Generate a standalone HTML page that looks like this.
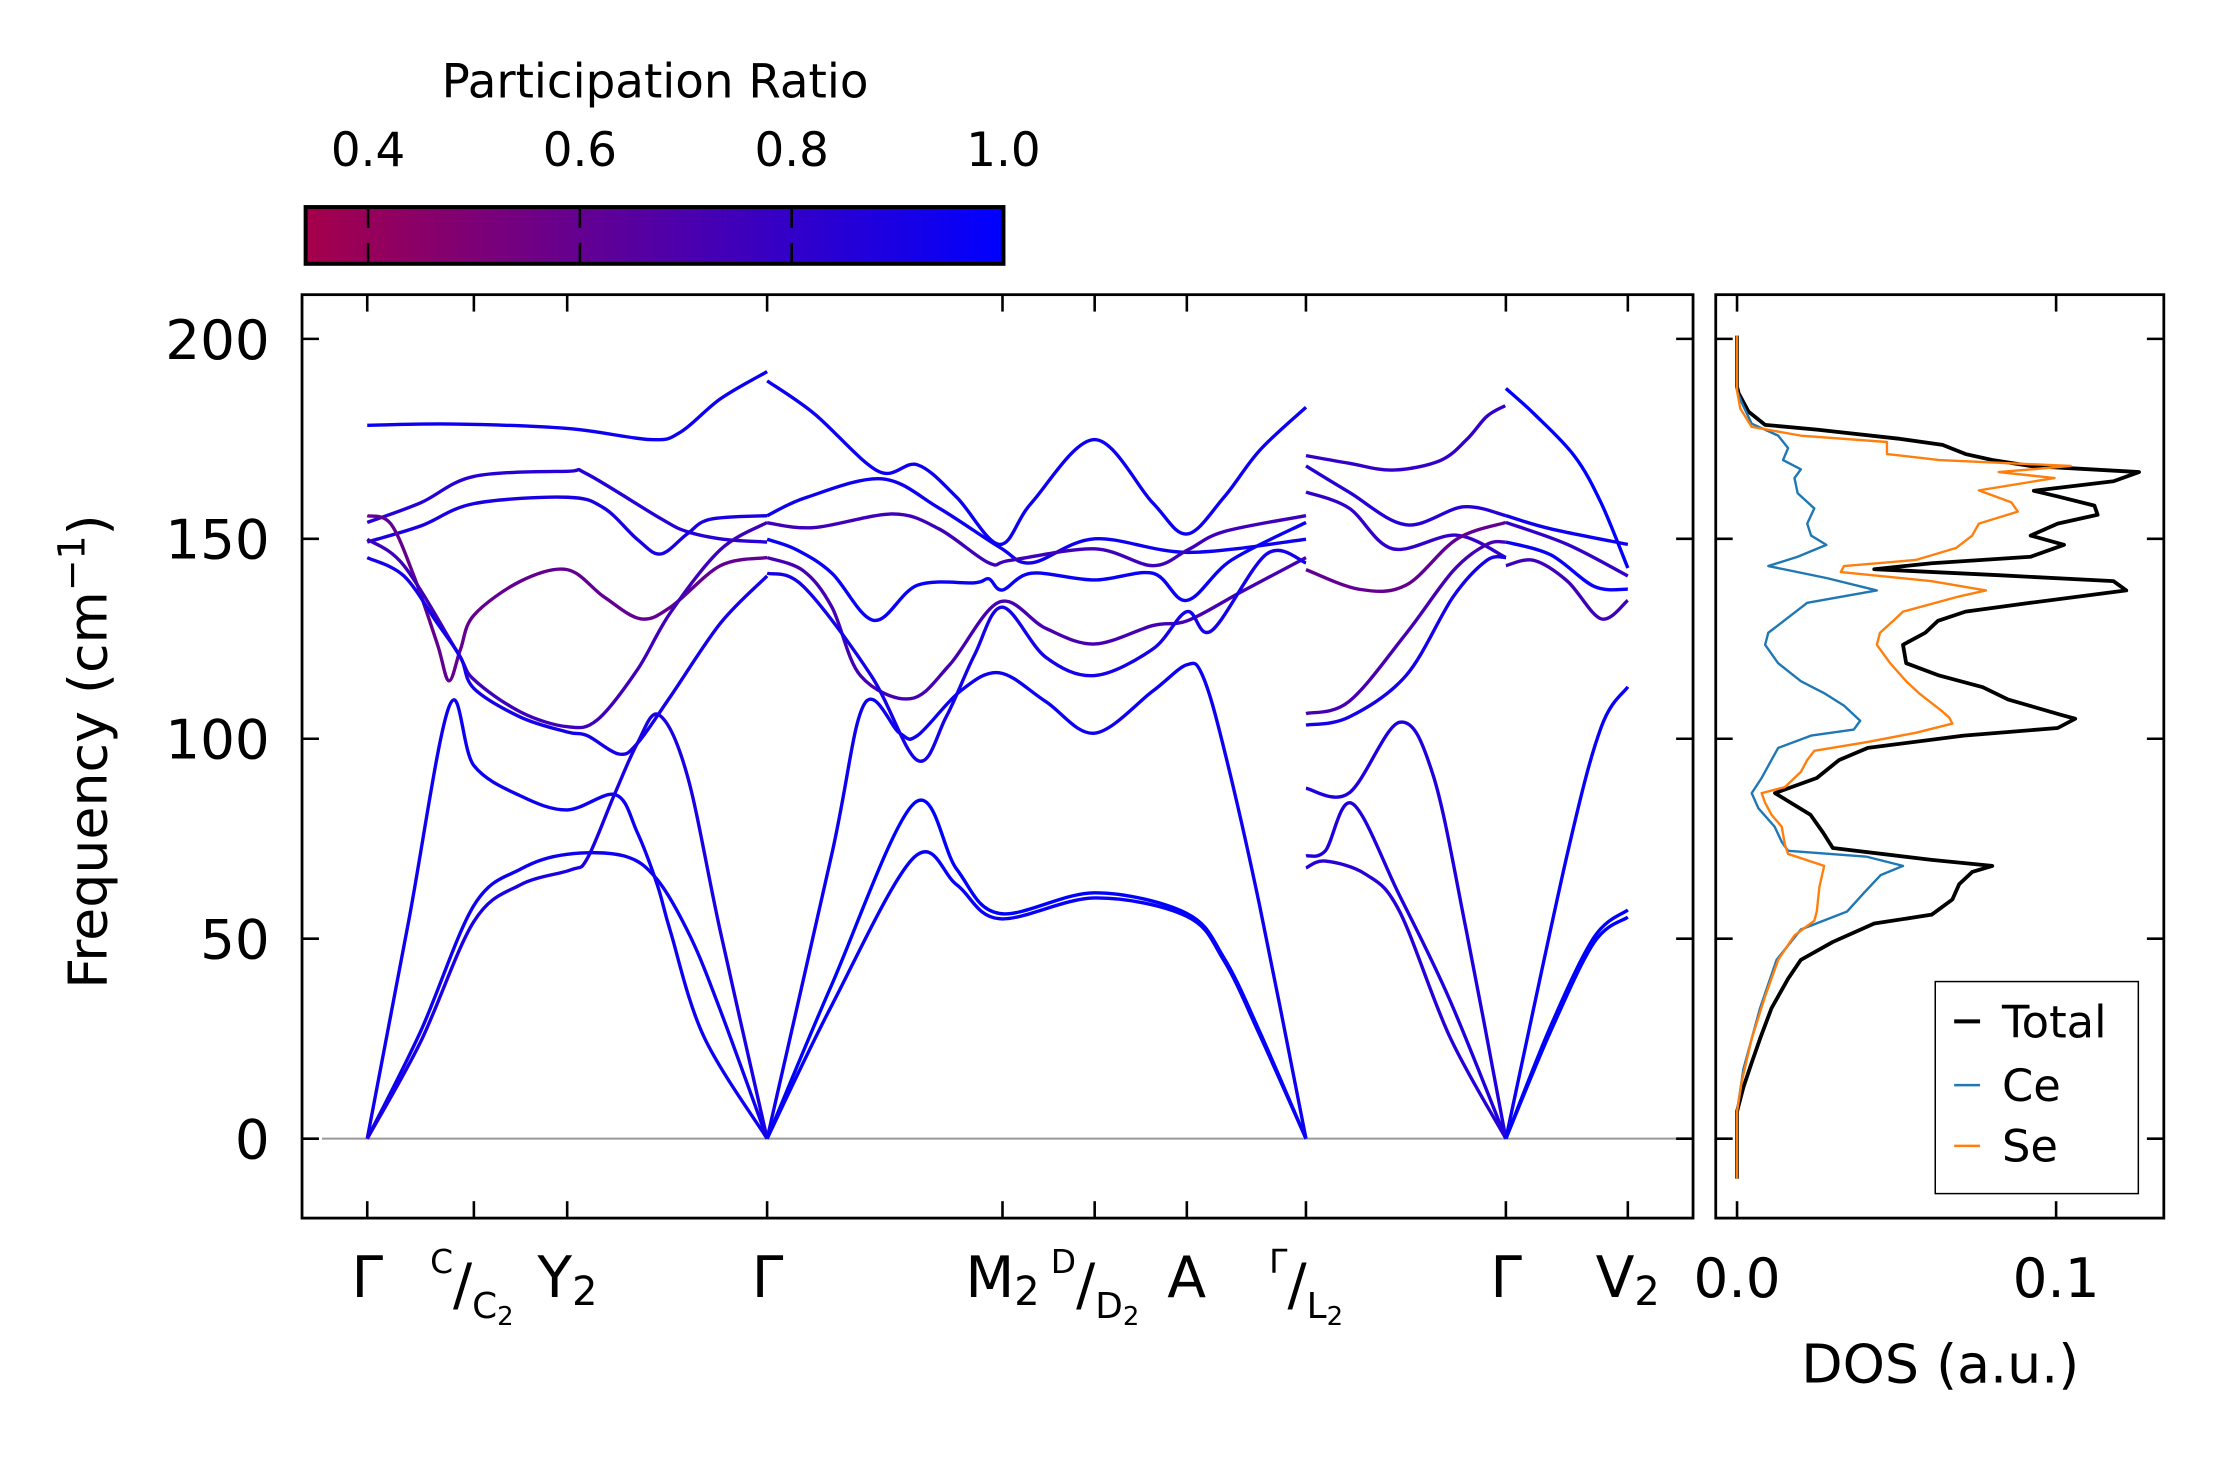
<!DOCTYPE html>
<html><head><meta charset="utf-8"><style>
html,body{margin:0;padding:0;background:#fff;}
svg text{font-family:"DejaVu Sans","Liberation Sans",sans-serif;fill:#000;}
</style></head><body>
<svg id="fig" xmlns="http://www.w3.org/2000/svg" width="2222" height="1455" viewBox="0 0 2222 1455">
<defs>
<linearGradient id="cbgrad" x1="0" x2="1" y1="0" y2="0">
<stop offset="0" stop-color="rgb(165,0,74)"/><stop offset="1" stop-color="rgb(0,0,255)"/>
</linearGradient>
</defs>
<g transform="scale(0.9955)">
<g>
<text x="658" y="98" font-size="47" text-anchor="middle">Participation Ratio</text>
<rect x="307" y="208" width="701" height="57" fill="url(#cbgrad)" stroke="#000" stroke-width="4"/>
<g id="cbticks"></g>
</g>
<g id="main"></g>
<g id="dos"></g>
<g><text x="107" y="755" font-size="54" text-anchor="middle" transform="rotate(-90 107 755)">Frequency (cm<tspan font-size="38" dy="-22">−1</tspan><tspan dy="22">)</tspan></text></g>
<text x="1949" y="1389" font-size="54" text-anchor="middle">DOS (a.u.)</text>
<g>
<text x="369" y="1303" font-size="57" text-anchor="middle">Γ</text>
<text x="474" y="1279" font-size="33" text-anchor="middle">C<tspan font-size="57" dy="31">/</tspan><tspan font-size="36" dy="14">C</tspan><tspan font-size="26" dy="7">2</tspan></text>
<text x="570" y="1303" font-size="57" text-anchor="middle">Y<tspan font-size="40" dy="8">2</tspan></text>
<text x="771" y="1303" font-size="57" text-anchor="middle">Γ</text>
<text x="1007" y="1303" font-size="57" text-anchor="middle">M<tspan font-size="40" dy="8">2</tspan></text>
<text x="1100" y="1279" font-size="33" text-anchor="middle">D<tspan font-size="57" dy="31">/</tspan><tspan font-size="36" dy="14">D</tspan><tspan font-size="26" dy="7">2</tspan></text>
<text x="1192" y="1303" font-size="57" text-anchor="middle">A</text>
<text x="1312" y="1279" font-size="33" text-anchor="middle">Γ<tspan font-size="57" dy="31">/</tspan><tspan font-size="36" dy="14">L</tspan><tspan font-size="26" dy="7">2</tspan></text>
<text x="1513" y="1303" font-size="57" text-anchor="middle">Γ</text>
<text x="1635" y="1303" font-size="57" text-anchor="middle">V<tspan font-size="40" dy="8">2</tspan></text>
</g>
<g>
<rect x="1944" y="986" width="204" height="213" fill="#fff" stroke="#000" stroke-width="1.5"/>
<line x1="1963" x2="1989" y1="1026" y2="1026" stroke="#000" stroke-width="4"/>
<text x="2011" y="1042" font-size="45">Total</text>
<line x1="1963" x2="1989" y1="1090" y2="1090" stroke="#1f77b4" stroke-width="2.5"/>
<text x="2011" y="1106" font-size="45">Ce</text>
<line x1="1963" x2="1989" y1="1151" y2="1151" stroke="#ff7f0e" stroke-width="2.5"/>
<text x="2011" y="1167" font-size="45">Se</text>
</g>
</g>
</svg>
<script>
// ---- data ----
const kTicks = [0, 0.752, 1.41, 2.82, 4.48, 5.13, 5.78, 6.62, 8.03, 8.89];
const freqTicks = [0, 50, 100, 150, 200];
const freqTickLabels = ["0", "50", "100", "150", "200"];
const dosTicks = [0.0, 0.1];
const dosTickLabels = ["0.0", "0.1"];
const cbTicks = [0.4, 0.6, 0.8, 1.0];
const cbTickLabels = ["0.4", "0.6", "0.8", "1.0"];

// segment Γ - C/C2 - Y2 - Γ
const bandK_A = [
 [0,0.611,1.41,2.0,2.21,2.49,2.82],
 [0,0.376,0.752,1.41,1.551,2.068,2.256,2.515,2.82],
 [0,0.376,0.752,1.41,1.669,1.904,2.068,2.256,2.42,2.82],
 [0,0.165,0.329,0.494,0.576,0.658,0.752,1.081,1.41,1.669,1.927,2.139,2.491,2.82],
 [0,0.259,0.635,0.752,1.081,1.41,1.622,1.904,2.139,2.491,2.82],
 [0,0.259,0.494,0.658,0.752,1.081,1.41,1.551,1.774,1.904,2.139,2.491,2.82],
 [0,0.29,0.580,0.752,1.081,1.41,1.751,1.904,2.045,2.139,2.374,2.82],
 [0,0.376,0.752,1.081,1.41,1.81,2.045,2.28,2.49,2.82],
 [0,0.376,0.752,1.081,1.434,1.551,1.739,1.904,2.056,2.256,2.491,2.82]
];
const bandF_A = [
 [178.4,178.7,177.6,174.8,176.7,185.0,191.8],
 [154.1,159.0,165.6,166.9,166.2,155.1,151.8,149.9,149.2],
 [149.2,153.2,158.8,160.4,157.7,149.9,146.2,151.2,154.9,155.8],
 [155.8,153.8,140.7,123.7,114.5,122.4,130.9,139.4,142.3,135.5,130.0,132.9,143.3,145.3],
 [149.9,143.3,121.7,114.8,106.7,103.0,104.7,117.2,131.6,147.3,154.1],
 [145.3,140.7,128.9,120.4,112.6,105.4,101.7,100.8,96.2,98.8,110.6,128.9,140.7],
 [0,54,108.3,93.3,85.7,82.2,86.0,76.6,63.5,51.7,25.5,0],
 [0,26.8,58.3,67.4,71.1,70.7,64.8,50.4,32.1,0],
 [0,24.2,54.3,63.5,67.2,70.0,85.7,98.8,106.0,91.0,51.7,0]
];
const bandPR_A = [0.95,0.85,0.9,0.6,0.75,0.92,0.95,0.95,0.9];

// segment Γ - M2 - D/D2 - A - Γ
const bandK_B = [
 [2.82,3.152,3.604,3.880,4.157,4.458,4.685,5.129,5.539,5.780,6.042,6.293,6.620],
 [2.82,3.101,3.629,4.031,4.459,4.685,5.129,5.790,6.620],
 [2.82,3.152,3.705,4.031,4.383,4.534,5.129,5.539,5.790,6.042,6.620],
 [2.82,3.026,3.277,3.574,3.880,4.283,4.383,4.479,4.685,5.129,5.539,5.780,6.092,6.620],
 [2.82,3.076,3.277,3.478,3.830,4.107,4.459,4.785,5.129,5.539,5.790,6.167,6.620],
 [2.82,3.076,3.554,3.880,4.082,4.283,4.479,4.785,5.129,5.539,5.780,5.954,6.343,6.620],
 [2.82,3.277,3.504,3.755,3.880,4.182,4.458,4.785,5.129,5.539,5.780,5.891,6.042,6.293,6.620],
 [2.82,3.277,3.855,4.157,4.458,5.129,5.780,6.042,6.293,6.620],
 [2.82,3.277,3.855,4.157,4.458,5.129,5.780,6.042,6.293,6.620]
];
const bandF_B = [
 [189.5,181.3,166.9,168.5,160.4,148.6,159,174.8,159,151.2,160.4,172.1,182.9],
 [155.8,160.4,165,157.7,147.9,144,150,146.6,149.9],
 [154,152.8,156.2,152.5,144,144.6,147.5,143.3,147.3,151.8,155.8],
 [149.9,147.3,141.4,129.6,138.4,139,140,137.2,141.4,139.7,141.4,134.6,144.6,154.1],
 [145.3,142,132.9,115.8,110,118.5,134.2,127.6,123.7,128.3,129.6,136.8,145.3],
 [141.4,138.1,115.8,94.6,105.4,121,132.9,120.4,115.8,122.4,131.8,127,146.2,144],
 [0,71.3,108.6,101.4,100.8,111.9,116.5,109.3,101.4,111.9,118.5,115.8,97.5,58.3,0],
 [0,38.6,83.8,67.4,56.3,61.5,56.3,45.2,26.8,0],
 [0,33.4,70.3,63.5,55,60.2,55.6,44.5,26,0]
];
const bandPR_B = [0.95,0.95,0.75,0.97,0.72,0.92,0.95,1.0,0.97];

// segment L2 - Γ
const bandK_C = [
 [6.62,6.923,7.231,7.563,7.753,7.895,8.025],
 [6.62,6.923,7.326,7.729,8.03],
 [6.62,6.923,7.231,7.682,8.03],
 [6.62,6.994,7.326,7.682,8.03],
 [6.62,6.923,7.326,7.658,7.895,8.03],
 [6.62,6.923,7.326,7.658,7.895,8.03],
 [6.62,6.923,7.279,7.516,7.753,8.03],
 [6.62,6.757,6.947,7.279,7.634,8.03],
 [6.62,6.757,7.042,7.279,7.634,8.03]
];
const bandF_C = [
 [170.8,168.9,167.2,169.5,174.8,180.6,183.3],
 [168.2,161.7,153.5,158,155.8],
 [161.7,157.7,147.5,150.9,145.3],
 [142.3,137.4,138.4,149.9,154.1],
 [106.3,109.3,126.3,142,148.6,149.2],
 [103.4,105.4,115.8,135.5,144.6,145.3],
 [87.6,86.4,104.1,91,51.7,0],
 [70.7,72,83.8,60.9,34.7,0],
 [67.7,69.4,66.1,56.9,25.5,0]
];
const bandPR_C = [0.8,0.85,0.8,0.6,0.72,0.92,0.88,0.88,0.85];

// segment Γ - V2
const bandK_D = [
 [8.03,8.227,8.511,8.701,8.89],
 [8.03,8.345,8.89],
 [8.03,8.464,8.89],
 [8.03,8.345,8.653,8.89],
 [8.03,8.227,8.464,8.701,8.89],
 [8.03,8.464,8.701,8.89],
 [8.03,8.345,8.653,8.89],
 [8.03,8.345,8.653,8.89]
];
const bandF_D = [
 [187.6,181.3,170.8,159,142.7],
 [155.8,152.5,148.6],
 [154.1,148.6,140.7],
 [149.2,146,138.1,137.4],
 [143.3,144.6,139.4,130,134.6],
 [0,71.3,102.8,113],
 [0,28.1,50.4,57.2],
 [0,26.8,49.1,55.4]
];
const bandPR_D = [1.0,0.95,0.8,0.97,0.75,0.97,1.0,1.0];

// DOS
const totalFreq = [-10,6.8,12.9,19,25,32.6,40,44.7,49.2,53.8,56,59.8,63.6,66.7,68.2,69.7,72.7,76.5,81,86.4,90.2,94.7,97.7,100.8,102.7,105,106,109.8,112.9,115.9,118.9,123.5,126.5,129.5,131.8,134,137.1,139.4,140.9,142.4,143.9,145.5,148.5,150.8,153.8,156,158.3,160.6,162,164.4,166.7,168.2,169.7,171.2,173.5,175,177.3,178.5,181.8,186.4,188,200.8];
const totalDos = [0,0,0.002,0.0046,0.0072,0.0108,0.016,0.020,0.030,0.043,0.061,0.0675,0.0696,0.0737,0.080,0.061,0.030,0.027,0.023,0.0119,0.025,0.032,0.041,0.071,0.1005,0.106,0.1015,0.085,0.077,0.063,0.053,0.052,0.059,0.063,0.0716,0.092,0.122,0.118,0.082,0.043,0.061,0.092,0.1025,0.092,0.1005,0.113,0.112,0.1005,0.093,0.118,0.126,0.092,0.080,0.0716,0.0644,0.051,0.025,0.0088,0.0036,0.0005,0,0];
const ceFreq = [-10,6.8,17.4,32.6,44.7,52.3,56.8,61.4,65.9,68.2,70.5,72,74.2,78,82.6,86.4,90.2,94.7,97.7,100.8,102.3,104.5,108.3,111.4,114.4,118.9,123.5,126.5,130.3,134,137.1,140.2,143.2,145.5,148.5,150.8,153.8,157.6,161.4,165.2,167.4,169.7,172.7,175.8,178.8,184,187,200.8];
const ceDos = [0,0,0.002,0.0072,0.0124,0.020,0.0345,0.0397,0.045,0.052,0.0407,0.016,0.014,0.0118,0.0067,0.0046,0.0077,0.0108,0.0129,0.0232,0.0366,0.0386,0.0335,0.0273,0.020,0.0129,0.0088,0.0098,0.016,0.022,0.0438,0.028,0.0098,0.019,0.028,0.0232,0.022,0.0242,0.019,0.018,0.020,0.0144,0.016,0.0129,0.0046,0.0015,0,0];
const seFreq = [-10,6.8,14.4,25,35.6,44.7,50.8,54.5,56.8,62.9,68.2,71.2,73.5,78,81,84,86.4,87.9,91.7,94.7,97,99.2,101.5,103.8,105.3,106.8,111.4,114.4,118.9,123.5,126.5,129.5,131.8,135.6,137.1,139.4,141.7,143.2,144.7,147.7,150.8,153.8,156.8,159.1,162.1,165.2,166.7,168.2,169.7,171.2,174.2,175.8,178,182.6,187,200.8];
const seDos = [0,0,0.0015,0.0046,0.0088,0.0129,0.018,0.0242,0.025,0.0258,0.0273,0.016,0.015,0.014,0.0108,0.0088,0.0077,0.015,0.020,0.022,0.0242,0.041,0.056,0.0675,0.0665,0.0644,0.057,0.053,0.048,0.0438,0.0448,0.049,0.052,0.0696,0.078,0.061,0.0325,0.0335,0.056,0.0686,0.0737,0.0758,0.088,0.086,0.0758,0.0995,0.082,0.1046,0.0634,0.047,0.047,0.020,0.0046,0.001,0,0];

// ---- scales ----
const AX = {l:303.4, r:1700.7, t:296, b:1223.6};
const DX = {l:1723.5, r:2173.6, t:296, b:1223.6};
const xK = k => 368.9 + 142.44 * k;
const yF = f => 1143.8 - 4.017 * f;
const xD = v => 1744.9 + 3205 * v;
const xCB = p => 307 + (p - 0.341) / (1 - 0.341) * 701;
const NS = "http://www.w3.org/2000/svg";
function mk(tag, attrs, parent){const e=document.createElementNS(NS,tag);for(const a in attrs)e.setAttribute(a,attrs[a]);parent.appendChild(e);return e;}
function prColor(p){const t=Math.max(0,Math.min(1,(p-0.341)/0.659));return `rgb(${Math.round(165*(1-t))},0,${Math.round(74+181*t)})`;}
function smoothPath(pts){
  let d=`M${pts[0][0].toFixed(1)},${pts[0][1].toFixed(1)}`;
  for(let i=0;i<pts.length-1;i++){
    const p0=pts[Math.max(0,i-1)],p1=pts[i],p2=pts[i+1],p3=pts[Math.min(pts.length-1,i+2)];
    const c1=[p1[0]+(p2[0]-p0[0])/6,p1[1]+(p2[1]-p0[1])/6];
    const c2=[p2[0]-(p3[0]-p1[0])/6,p2[1]-(p3[1]-p1[1])/6];
    d+=` C${c1[0].toFixed(1)},${c1[1].toFixed(1)} ${c2[0].toFixed(1)},${c2[1].toFixed(1)} ${p2[0].toFixed(1)},${p2[1].toFixed(1)}`;
  }
  return d;
}
const main=document.getElementById('main');
const dos=document.getElementById('dos');
const zl=mk('line',{x1:AX.l+20,x2:AX.r,y1:yF(0),y2:yF(0),stroke:'#999','stroke-width':2},main);


const segs=[[bandK_A,bandF_A,bandPR_A,'a'],[bandK_B,bandF_B,bandPR_B,'b'],[bandK_C,bandF_C,bandPR_C,'c'],[bandK_D,bandF_D,bandPR_D,'d']];
segs.forEach(([K,F,P,nm])=>{
  K.forEach((ks,i)=>{
    const pts=ks.map((k,j)=>[xK(k),yF(F[i][j])]);
    const p=mk('path',{d:smoothPath(pts),fill:'none',stroke:prColor(P[i]),'stroke-width':3.4,'stroke-linejoin':'round'},main);
    
    
  });
});
const mf=mk('rect',{x:AX.l,y:AX.t,width:AX.r-AX.l,height:AX.b-AX.t,fill:'none',stroke:'#000','stroke-width':2.8},main);


const TL=17;
kTicks.forEach(k=>{
  const t1=mk('line',{x1:xK(k),x2:xK(k),y1:AX.b,y2:AX.b-TL,stroke:'#000','stroke-width':2.6},main);
  
  
  const t2=mk('line',{x1:xK(k),x2:xK(k),y1:AX.t,y2:AX.t+TL,stroke:'#000','stroke-width':2.6},main);
  
  
});
freqTicks.forEach((f,i)=>{
  [[AX.l,AX.l+TL],[AX.r,AX.r-TL]].forEach(([a,b])=>{
    const t=mk('line',{x1:a,x2:b,y1:yF(f),y2:yF(f),stroke:'#000','stroke-width':2.6},main);
    
    
  });
  const lb=mk('text',{x:271,y:yF(f)+20,'font-size':55,'text-anchor':'end'},main);
  lb.textContent=freqTickLabels[i];
  
  
  [[DX.l,DX.l+TL],[DX.r,DX.r-TL]].forEach(([a,b])=>{
    const t=mk('line',{x1:a,x2:b,y1:yF(f),y2:yF(f),stroke:'#000','stroke-width':2.6},dos);
    
    
  });
});
[[totalFreq,totalDos,'#000',3.8,'dos-total-line'],[ceFreq,ceDos,'#1f77b4',2.4,'dos-ce-line'],[seFreq,seDos,'#ff7f0e',2.4,'dos-se-line']].forEach(([fr,vs,c,w,nm])=>{
  const pts=fr.map((f,i)=>xD(vs[i]).toFixed(1)+','+yF(f).toFixed(1)).join(' ');
  const pl=mk('polyline',{points:pts,fill:'none',stroke:c,'stroke-width':w,'stroke-linejoin':'round'},dos);
  
  
});
const df=mk('rect',{x:DX.l,y:DX.t,width:DX.r-DX.l,height:DX.b-DX.t,fill:'none',stroke:'#000','stroke-width':2.8},dos);


dosTicks.forEach((v,i)=>{
  [[DX.b,DX.b-TL],[DX.t,DX.t+TL]].forEach(([a,b])=>{
    const t=mk('line',{x1:xD(v),x2:xD(v),y1:a,y2:b,stroke:'#000','stroke-width':2.6},dos);
    
    
  });
  const lb=mk('text',{x:xD(v),y:1303,'font-size':55,'text-anchor':'middle'},dos);
  lb.textContent=dosTickLabels[i];
  
  
});
const cbt=document.getElementById('cbticks');
cbTicks.forEach((p,i)=>{
  const x=xCB(p);
  if(p<1){
    const a=mk('line',{x1:x,x2:x,y1:208,y2:229,stroke:'#000','stroke-width':2.6},cbt);
    
    
    const b=mk('line',{x1:x,x2:x,y1:244,y2:265,stroke:'#000','stroke-width':2.6},cbt);
    
    
  }
  const lb=mk('text',{x:x,y:167,'font-size':47,'text-anchor':'middle'},cbt);
  lb.textContent=cbTickLabels[i];
  
  
});
</script>
</body></html>
